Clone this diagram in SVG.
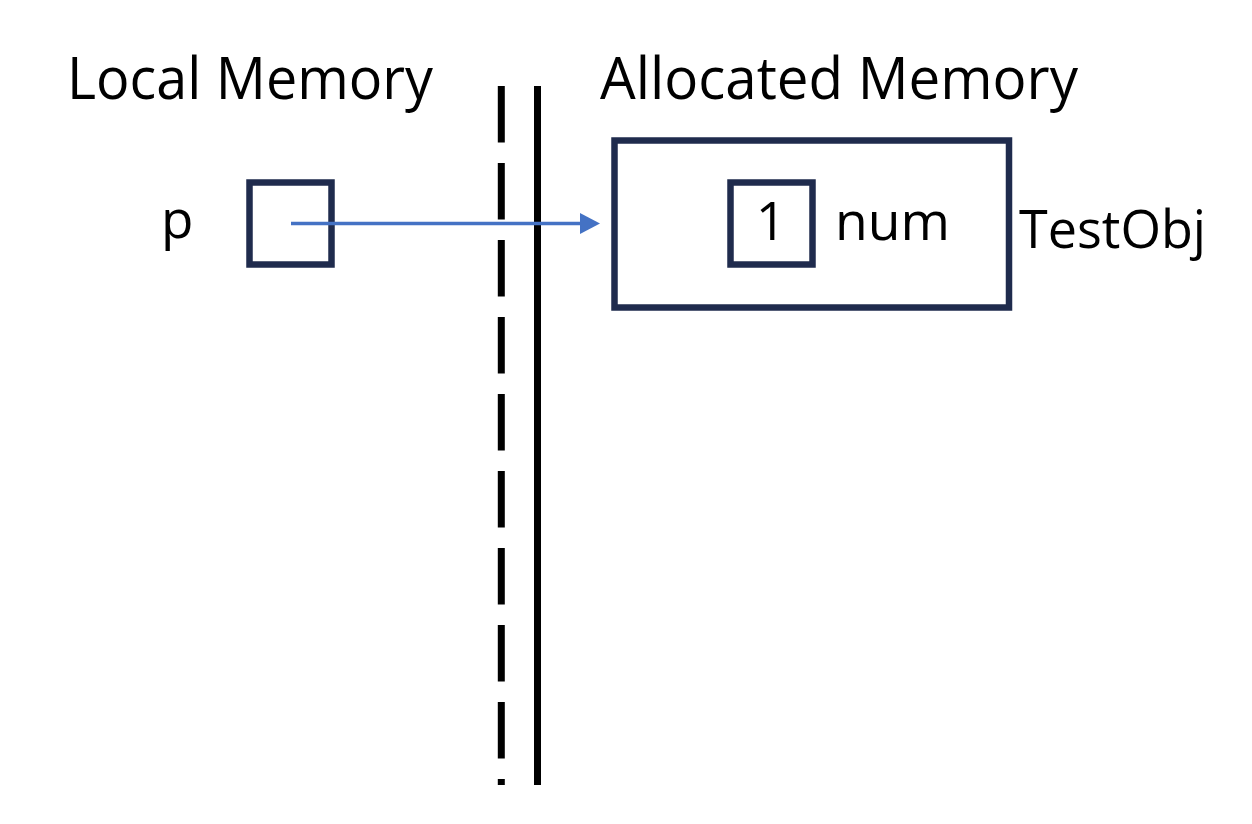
<svg xmlns="http://www.w3.org/2000/svg" width="1252" height="824" viewBox="0 0 1252 824">
  <style>
    .box { fill: #FFFFFF; stroke: #1F2B4D; stroke-width: 6.5; }
    .big { font-family: "Open Sans", "Liberation Sans", sans-serif; font-size: 59px; fill: #000000; }
    .lbl { font-family: "Open Sans", "Liberation Sans", sans-serif; font-size: 53px; fill: #000000; }
    .divider { stroke: #000000; stroke-width: 7; fill: none; }
  </style>
  <rect width="1252" height="824" fill="#FFFFFF"/>
  <g id="headings">
    <text class="big" x="67" y="99" textLength="366" lengthAdjust="spacingAndGlyphs">Local Memory</text>
    <text class="big" x="600" y="99" textLength="478" lengthAdjust="spacingAndGlyphs">Allocated Memory</text>
  </g>
  <g id="dividers">
    <line class="divider" x1="501.3" y1="86" x2="501.3" y2="785" stroke-dasharray="56.5 20.5"/>
    <line class="divider" x1="537.5" y1="86" x2="537.5" y2="785"/>
  </g>
  <g id="node-p">
    <text class="lbl" x="161" y="238">p</text>
    <rect class="box" x="249.5" y="182.5" width="82" height="82"/>
  </g>
  <g id="node-testobj">
    <rect class="box" x="614.5" y="140.5" width="394.5" height="167"/>
    <text class="lbl" x="1019" y="248" textLength="187" lengthAdjust="spacingAndGlyphs">TestObj</text>
  </g>
  <g id="node-num">
    <rect class="box" x="730.5" y="182.5" width="82" height="82"/>
    <text class="lbl" x="771" y="240" text-anchor="middle">1</text>
    <text class="lbl" x="835" y="240" textLength="115" lengthAdjust="spacingAndGlyphs">num</text>
  </g>
  <g id="connectors">
    <line x1="291" y1="223.5" x2="582" y2="223.5" stroke="#4472C4" stroke-width="3.5"/>
    <polygon points="580,213 600,223.5 580,234" fill="#4472C4"/>
  </g>
</svg>
